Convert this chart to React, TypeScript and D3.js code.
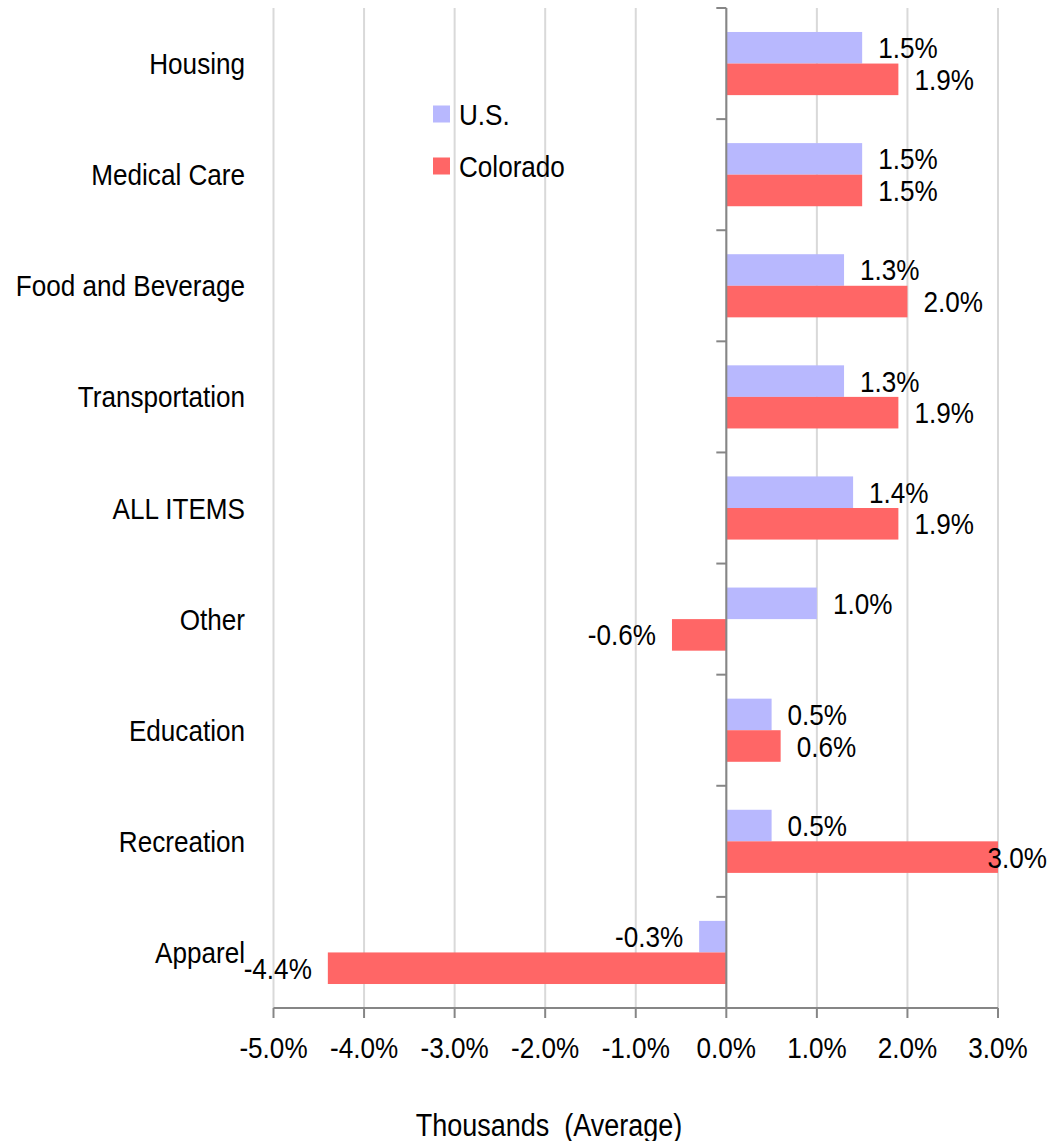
import React from "react";
import * as d3 from "d3";

const categories = [
  "Housing",
  "Medical Care",
  "Food and Beverage",
  "Transportation",
  "ALL ITEMS",
  "Other",
  "Education",
  "Recreation",
  "Apparel",
];
const usValues = [1.5, 1.5, 1.3, 1.3, 1.4, 1.0, 0.5, 0.5, -0.3];
const coValues = [1.9, 1.5, 2.0, 1.9, 1.9, -0.6, 0.6, 3.0, -4.4];
const seriesNames = ["U.S.", "Colorado"];
const seriesColors = ["#b8b8fe", "#ff6666"];
const xTicks = [-5, -4, -3, -2, -1, 0, 1, 2, 3];
const axisTitle = "Thousands  (Average)";

const W = 1063;
const H = 1141;
const FONT = "'Liberation Sans', Arial, sans-serif";
const SX = 0.87;

function NText({
  x,
  y,
  anchor = "start",
  size = 30,
  dy = "0.35em",
  children,
}: {
  x: number;
  y: number;
  anchor?: string;
  size?: number;
  dy?: string;
  children: React.ReactNode;
}) {
  return (
    <text
      transform={`translate(${x},${y}) scale(${SX},1)`}
      x={0}
      y={0}
      dy={dy}
      textAnchor={anchor}
      fontSize={size}
      fill="#000"
      style={{ whiteSpace: "pre" }}
    >
      {children}
    </text>
  );
}

export default function App() {
  const x = d3.scaleLinear().domain([-5, 3]).range([273.5, 998]);
  const y = d3.scaleBand<string>().domain(categories).range([8, 1008]).padding(0);
  const inner = d3
    .scaleBand<string>()
    .domain(seriesNames)
    .range([0, y.step()])
    .paddingInner(0)
    .paddingOuter(0.76);
  const fmt = (v: number) => (v < 0 ? "-" : "") + Math.abs(v).toFixed(1) + "%";
  const series = [usValues, coValues];
  const x0 = x(0);
  const labelRightLimit = 1047;

  return (
    <div style={{ position: "absolute", left: 0, top: 0 }}>
      <svg width={W} height={H} style={{ display: "block", background: "#fff" }} fontFamily={FONT}>
        {/* gridlines */}
        {xTicks.map((t) => (
          <line key={"g" + t} x1={x(t)} x2={x(t)} y1={8} y2={1008} stroke="#d9d9d9" strokeWidth={2} />
        ))}
        {/* bars */}
        {categories.map((c, i) =>
          series.map((vals, s) => {
            const v = vals[i];
            const by = (y(c) as number) + (inner(seriesNames[s]) as number);
            return (
              <rect
                key={c + s}
                x={Math.min(x(v), x0)}
                y={by}
                width={Math.abs(x(v) - x0)}
                height={inner.bandwidth()}
                fill={seriesColors[s]}
              />
            );
          })
        )}
        {/* axes */}
        <line x1={x0} x2={x0} y1={8} y2={1008} stroke="#868686" strokeWidth={2} />
        {categories.map((c) => (
          <line key={"yt" + c} x1={x0 - 10} x2={x0} y1={y(c)} y2={y(c)} stroke="#868686" strokeWidth={2} />
        ))}
        <line x1={x0 - 10} x2={x0} y1={1008} y2={1008} stroke="#868686" strokeWidth={2} />
        <line x1={x(-5)} x2={x(3)} y1={1008} y2={1008} stroke="#868686" strokeWidth={2} />
        {xTicks.map((t) => (
          <line key={"xt" + t} x1={x(t)} x2={x(t)} y1={1008} y2={1018} stroke="#868686" strokeWidth={2} />
        ))}
        {/* x tick labels */}
        {xTicks.map((t) => (
          <NText key={"xl" + t} x={x(t)} y={1058} anchor="middle" dy="0">
            {fmt(t)}
          </NText>
        ))}
        {/* category labels */}
        {categories.map((c) => (
          <NText key={"cl" + c} x={245} y={(y(c) as number) + y.step() / 2} anchor="end">
            {c}
          </NText>
        ))}
        {/* data labels */}
        {categories.map((c, i) =>
          series.map((vals, s) => {
            const v = vals[i];
            const cy = (y(c) as number) + (inner(seriesNames[s]) as number) + inner.bandwidth() / 2;
            let lx = v >= 0 ? x(v) + 16 : x(v) - 16;
            let anchor = v >= 0 ? "start" : "end";
            if (v >= 0 && lx + 58 > labelRightLimit) {
              lx = labelRightLimit;
              anchor = "end";
            }
            return (
              <NText key={"dl" + c + s} x={lx} y={cy} anchor={anchor}>
                {fmt(v)}
              </NText>
            );
          })
        )}
        {/* legend */}
        {seriesNames.map((n, s) => (
          <g key={"lg" + n}>
            <rect x={433} y={114 + s * 52 - 8.5} width={17} height={17} fill={seriesColors[s]} />
            <NText x={459} y={114 + s * 52}>
              {n}
            </NText>
          </g>
        ))}
        {/* axis title */}
        <NText x={549} y={1136} anchor="middle" size={31} dy="0">
          {axisTitle}
        </NText>
      </svg>
    </div>
  );
}
